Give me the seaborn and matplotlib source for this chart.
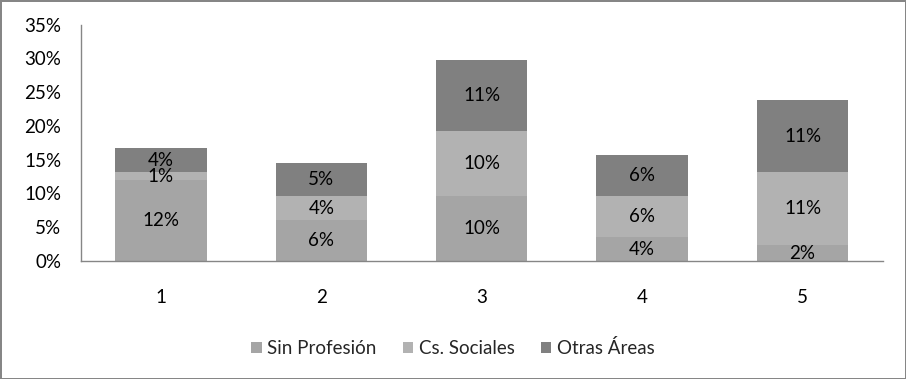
import matplotlib
matplotlib.use("Agg")
import matplotlib.pyplot as plt
import seaborn as sns
import numpy as np
from matplotlib.patches import Patch

groups = ["1", "2", "3", "4", "5"]
sin_prof = [11.96, 6.06, 9.6, 3.55, 2.36]
cs_soc = [1.18, 3.55, 9.6, 6.06, 10.8]
otras = [3.55, 4.87, 10.6, 6.06, 10.6]
series = ["Sin Profesión", "Cs. Sociales", "Otras Áreas"]
colors = ["#a5a5a5", "#b2b2b2", "#808080"]

sns.set_style("white")
plt.rcParams['font.family'] = ['Lato', 'DejaVu Sans']
fs = 13.5

fig = plt.figure(figsize=(9.06, 3.79), dpi=100)
fig.patch.set_edgecolor('#868686')
fig.patch.set_linewidth(2)
ax = fig.add_axes([0.0891, 0.3113, 0.8852, 0.624])

s1 = np.array(sin_prof)
s2 = s1 + np.array(cs_soc)
s3 = s2 + np.array(otras)

# stacked bars: draw cumulative totals from the top down
for tot, col in zip([s3, s2, s1], colors[::-1]):
    sns.barplot(x=groups, y=tot, color=col, width=0.57, saturation=1,
                edgecolor='none', linewidth=0, ax=ax)

for i in range(len(groups)):
    lows = [0, s1[i], s2[i]]
    vals = [sin_prof[i], cs_soc[i], otras[i]]
    for lo, v in zip(lows, vals):
        ax.text(i, lo + v / 2, '%d%%' % round(v), ha='center', va='center',
                fontsize=fs, color='black')

ax.set_ylim(0, 35)
ax.set_xlim(-0.5, 4.5)
ax.set_yticks(range(0, 36, 5))
ax.set_yticklabels(['%d%%' % t for t in range(0, 36, 5)])
ax.tick_params(axis='both', length=0, labelsize=fs, colors='black')
ax.tick_params(axis='y', pad=14)
ax.tick_params(axis='x', pad=20)
for sp in ['top', 'right']:
    ax.spines[sp].set_visible(False)
for sp in ['left', 'bottom']:
    ax.spines[sp].set_color('#868686')
    ax.spines[sp].set_linewidth(1)

handles = [Patch(facecolor=c, edgecolor='none') for c in colors]
fig.legend(handles, series, loc='center', bbox_to_anchor=(0.5, 0.082), ncol=3,
           frameon=False, fontsize=fs, handlelength=0.55, handleheight=0.55,
           handletextpad=0.3, columnspacing=1.4)

plt.savefig('out.png', dpi=100)
